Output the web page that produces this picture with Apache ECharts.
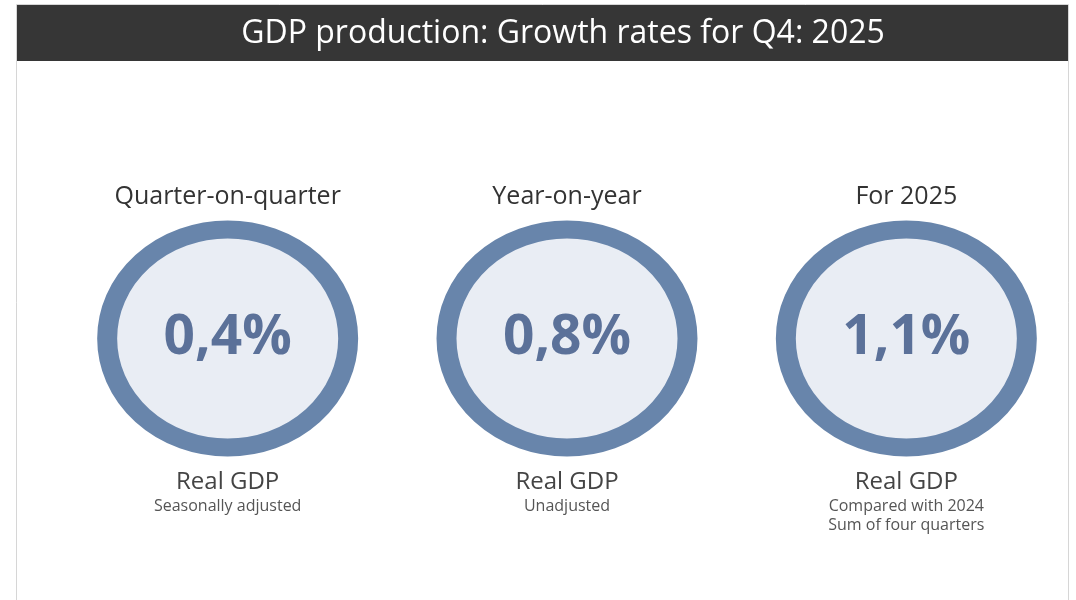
<!DOCTYPE html>
<html>
<head>
<meta charset="utf-8">
<script src="https://cdn.jsdelivr.net/npm/echarts@6/dist/echarts.min.js"></script>
<style>
html,body{margin:0;padding:0;background:#fff;}
#chart{width:1076px;height:600px;}
</style>
</head>
<body>
<div id="chart"></div>
<script>
// ---- data ----
var titleText = 'GDP production: Growth rates for Q4: 2025';
var categories = ['Quarter-on-quarter', 'Year-on-year', 'For 2025'];
var growthValues = [0.4, 0.8, 1.1];
var measureLabels = ['Real GDP', 'Real GDP', 'Real GDP'];
var noteLines = [
  ['Seasonally adjusted'],
  ['Unadjusted'],
  ['Compared with 2024', 'Sum of four quarters']
];
var rowName = ['Real GDP growth'];

var FONT = '"Open Sans", "Noto Sans", sans-serif';

var chart = echarts.init(document.getElementById('chart'), null, {renderer: 'canvas'});

var seriesData = categories.map(function (c, i) { return [c, rowName[0], growthValues[i]]; });

var option = {
  backgroundColor: '#ffffff',
  animation: false,
  title: {
    text: titleText,
    left: 563,
    textAlign: 'center',
    top: 13,
    padding: 0,
    textStyle: {color: '#ffffff', fontSize: 32, fontWeight: 'normal', fontFamily: FONT, lineHeight: 42}
  },
  graphic: [
    {type: 'rect', z: -10, shape: {x: 16.5, y: 4.5, width: 1052, height: 640},
     style: {fill: '#ffffff', stroke: '#d6d6d6', lineWidth: 1}},
    {type: 'rect', z: -5, shape: {x: 17, y: 5, width: 1051, height: 56},
     style: {fill: '#363636'}}
  ],
  grid: {left: 58, width: 1019, top: 220, height: 237},
  xAxis: [
    {
      type: 'category', data: categories, position: 'top',
      axisLine: {show: false}, axisTick: {show: false}, splitLine: {show: false},
      axisLabel: {interval: 0, margin: 11, color: '#333333', fontSize: 25, fontFamily: FONT}
    },
    {
      type: 'category', data: categories, position: 'bottom',
      axisLine: {show: false}, axisTick: {show: false}, splitLine: {show: false},
      axisLabel: {
        interval: 0, margin: 11, fontFamily: FONT, align: 'center',
        formatter: function (v, idx) {
          var s = '{m|' + measureLabels[idx] + '}';
          noteLines[idx].forEach(function (n) { s += '\n{n|' + n + '}'; });
          return s;
        },
        rich: {
          m: {color: '#444444', fontSize: 24, fontFamily: FONT, lineHeight: 29, align: 'center'},
          n: {color: '#555555', fontSize: 16, fontFamily: FONT, lineHeight: 19, align: 'center'}
        }
      }
    }
  ],
  yAxis: {
    type: 'category', data: rowName,
    axisLine: {show: false}, axisTick: {show: false}, axisLabel: {show: false}, splitLine: {show: false}
  },
  series: [{
    type: 'scatter',
    xAxisIndex: 0,
    data: seriesData,
    encode: {x: 0, y: 1},
    symbol: 'circle',
    symbolSize: [241, 218],
    itemStyle: {color: '#e9edf4', borderColor: '#6885ab', borderWidth: 19, opacity: 1},
    label: {
      show: true, position: 'inside',
      formatter: function (p) { return p.value[2].toFixed(1).replace('.', ',') + '%'; },
      color: '#5b7199', fontSize: 55, fontWeight: 'bold', fontFamily: FONT
    },
    emphasis: {disabled: true}
  }]
};
chart.setOption(option);
</script>
</body>
</html>
